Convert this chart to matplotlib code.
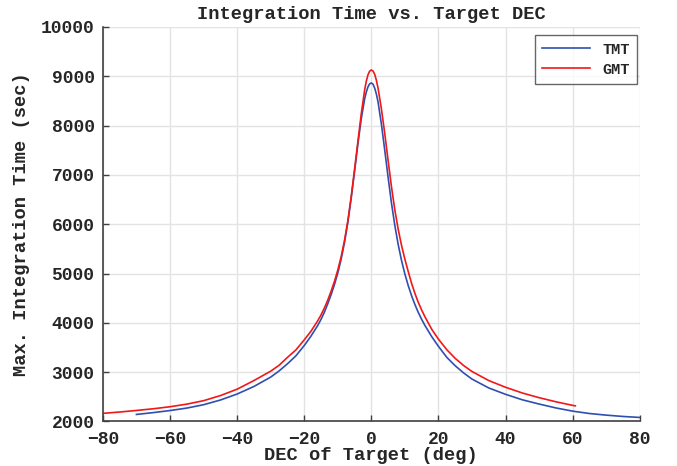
import matplotlib
matplotlib.use("Agg")
import matplotlib.pyplot as plt

# values
tmt_dec = [-70, -65, -60, -55, -50, -45, -40, -35, -30, -27.5, -25, -22.5, -20,
           -18, -16, -15, -14, -13, -12, -11, -10, -9, -8, -7, -6, -5, -4, -3,
           -2, -1.5, -1, -0.5, 0, 0.5, 1, 1.5, 2, 3, 4, 5, 6, 7, 8, 9, 10, 11,
           12, 13, 14, 15, 16, 18, 20, 22.5, 25, 27.5, 30, 35, 40, 45, 50, 55,
           60, 65, 70, 75, 80]
tmt_time = [2143, 2180, 2222, 2272, 2340, 2435, 2557, 2710, 2900, 3025, 3170,
            3330, 3540, 3730, 3945, 4070, 4215, 4385, 4570, 4775, 5010, 5290,
            5630, 6040, 6530, 7070, 7630, 8140, 8540, 8680, 8785, 8848, 8865,
            8840, 8760, 8640, 8480, 8030, 7500, 6950, 6430, 5975, 5590, 5265,
            4990, 4755, 4550, 4370, 4210, 4070, 3945, 3720, 3524, 3300, 3130,
            2985, 2860, 2680, 2551, 2440, 2354, 2275, 2210, 2162, 2129, 2102,
            2082]

gmt_dec = [-80, -75, -70, -65, -60, -55, -50, -45, -40, -35, -30, -27.5, -25,
           -22.5, -20, -18, -16, -15, -14, -13, -12, -11, -10, -9, -8, -7, -6,
           -5, -4, -3, -2, -1.5, -1, -0.5, 0, 0.5, 1, 1.5, 2, 3, 4, 5, 6, 7, 8,
           9, 10, 11, 12, 13, 14, 15, 16, 18, 20, 22.5, 25, 27.5, 30, 35, 40,
           45, 50, 55, 60, 60.8]
gmt_time = [2165, 2192, 2224, 2258, 2299, 2352, 2422, 2525, 2655, 2830, 3020,
            3140, 3300, 3450, 3655, 3830, 4040, 4160, 4300, 4460, 4640, 4840,
            5070, 5340, 5670, 6070, 6560, 7110, 7680, 8240, 8720, 8900, 9030,
            9105, 9128, 9108, 9040, 8920, 8760, 8340, 7840, 7290, 6760, 6290,
            5900, 5570, 5290, 5040, 4800, 4595, 4415, 4260, 4120, 3870, 3670,
            3455, 3280, 3135, 3014, 2830, 2694, 2578, 2483, 2400, 2327, 2318]

x_ticks = [-80, -60, -40, -20, 0, 20, 40, 60, 80]
y_ticks = [2000, 3000, 4000, 5000, 6000, 7000, 8000, 9000, 10000]

FONT = "Liberation Mono"
TXT = "#262626"
plt.rcParams["font.family"] = FONT
plt.rcParams["font.weight"] = "bold"

fig = plt.figure(figsize=(6.77, 4.66), dpi=100)
ax = fig.add_axes([0.152, 0.0955, 0.793, 0.8466])

ax.plot(tmt_dec, tmt_time, color="#2f4fb0", lw=1.2, label="TMT")
ax.plot(gmt_dec, gmt_time, color="#f01818", lw=1.2, label="GMT")

ax.set_xlim(-80, 80)
ax.set_ylim(2000, 10000)
ax.set_xticks(x_ticks)
ax.set_yticks(y_ticks)
ax.tick_params(direction="in", length=4, width=1, colors="#404040",
               labelcolor=TXT, labelsize=13)
ax.tick_params(axis="x", pad=7)
ax.tick_params(axis="y", pad=6)
for lab in ax.get_xticklabels() + ax.get_yticklabels():
    lab.set_fontweight("bold")

ax.grid(True, color="#e3e3e3", lw=1)
ax.set_axisbelow(True)
for s in ("top", "right"):
    ax.spines[s].set_visible(False)
for s in ("left", "bottom"):
    ax.spines[s].set_color("#404040")
    ax.spines[s].set_linewidth(1.2)

ax.set_title("Integration Time vs. Target DEC", fontsize=13.5,
             fontweight="bold", color=TXT, pad=6)
ax.set_xlabel("DEC of Target (deg)", fontsize=13.5, fontweight="bold",
              color=TXT, labelpad=-1)
ax.set_ylabel("Max. Integration Time (sec)", fontsize=13.5,
              fontweight="bold", color=TXT, labelpad=8)

leg = ax.legend(loc="upper right", fontsize=11, frameon=True, fancybox=False,
                handlelength=3.1, borderpad=0.5, labelspacing=0.4,
                borderaxespad=0, bbox_to_anchor=(0.995, 0.98))
leg.get_frame().set_edgecolor("#404040")
leg.get_frame().set_linewidth(1)
for t in leg.get_texts():
    t.set_fontweight("bold")
    t.set_color(TXT)

fig.savefig("out.png", dpi=100)
